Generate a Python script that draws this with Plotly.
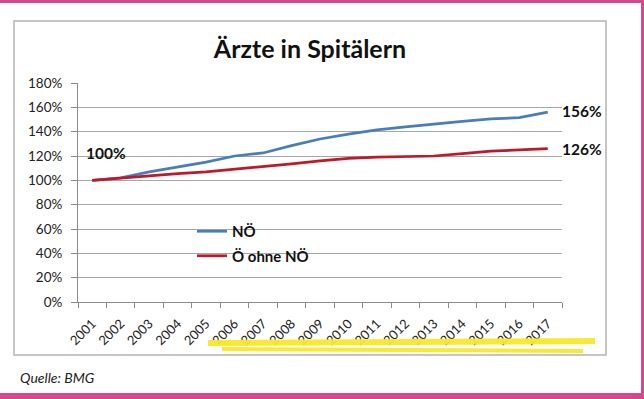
import plotly.graph_objects as go

years = [str(y) for y in range(2001, 2018)]
noe = [100, 102, 107, 111, 115, 120, 122.5, 128.5, 134, 138, 141.5, 144, 146.5, 148.5, 150.5, 151.5, 156]
oe_ohne_noe = [100, 102, 104, 105.5, 107, 109, 111, 113.5, 116, 118, 119, 119.5, 120, 122, 124, 125, 126]
series_names = ["NÖ", "Ö ohne NÖ"]
colors = ["#4a7ebb", "#c0182a"]
y_ticks = [0, 20, 40, 60, 80, 100, 120, 140, 160, 180]
PCT = "&#37;"

W, H = 644, 399
L, R, T, B = 78, 644 - 562, 83, 399 - 302

fig = go.Figure()
for name, vals, col in zip(series_names, [noe, oe_ohne_noe], colors):
    fig.add_trace(go.Scatter(x=years, y=vals, mode="lines", name=name,
                             line=dict(color=col, width=2.7), legendgroup=name))

font_fam = "Lato, 'Open Sans', sans-serif"

fig.update_layout(
    width=W, height=H,
    margin=dict(l=L, r=R, t=T, b=B),
    paper_bgcolor="white", plot_bgcolor="white",
    title=dict(text="<b>Ärzte in Spitälern</b>", x=310 / W, xanchor="center",
               y=1 - 49 / H, yanchor="middle", yref="container",
               font=dict(family=font_fam, size=25, color="#111")),
    xaxis=dict(type="category", range=[-0.5, 16.5], showgrid=False,
               showline=True, linecolor="#8c8c8c", linewidth=1,
               ticks="outside", tickson="boundaries", ticklen=5, tickcolor="#8c8c8c",
               tickangle=-45, ticklabelstandoff=8,
               tickfont=dict(family=font_fam, size=13, color="#222")),
    yaxis=dict(range=[0, 180], tickvals=y_ticks, ticktext=[f"{v}{PCT}" for v in y_ticks],
               showgrid=True, gridcolor="#a6a6a6", gridwidth=1,
               showline=True, linecolor="#8c8c8c", linewidth=1, zeroline=False,
               ticks="outside", ticklen=6, tickcolor="#8c8c8c", ticklabelstandoff=6,
               tickfont=dict(family=font_fam, size=13.5, color="#222")),
    showlegend=True,
    legend=dict(x=(192 - L) / (W - L - R), y=(302 - 215) / (302 - 83),
                xanchor="left", yanchor="top", bgcolor="rgba(0,0,0,0)",
                font=dict(family=font_fam, size=15, color="#111", weight="bold"),
                tracegroupgap=2, traceorder="grouped", itemwidth=30),
)

# value labels
fig.add_annotation(x=0, y=noe[0], text=f"<b>{noe[0]:.0f}{PCT}</b>", showarrow=False,
                   xanchor="left", yanchor="middle", xshift=-8, yshift=27,
                   font=dict(family=font_fam, size=15.5, color="#111"))
fig.add_annotation(x=len(years) - 1, y=noe[-1], text=f"<b>{noe[-1]:.0f}{PCT}</b>", showarrow=False,
                   xanchor="left", yanchor="middle", xshift=12, yshift=1,
                   font=dict(family=font_fam, size=15.5, color="#111"))
fig.add_annotation(x=len(years) - 1, y=oe_ohne_noe[-1], text=f"<b>{oe_ohne_noe[-1]:.0f}{PCT}</b>", showarrow=False,
                   xanchor="left", yanchor="middle", xshift=12, yshift=0,
                   font=dict(family=font_fam, size=15.5, color="#111"))

# source
fig.add_annotation(xref="paper", yref="paper", x=(18 - L) / (W - L - R), y=-(377 - 302) / (302 - 83),
                   text="<i>Quelle: BMG</i>", showarrow=False, xanchor="left", yanchor="middle",
                   font=dict(family=font_fam, size=14, color="#222"))

def px_x(p):
    return (p - L) / (W - L - R)

def px_y(p):
    return (302 - p) / (302 - 83)

# chart frame
fig.add_shape(type="rect", xref="paper", yref="paper", x0=px_x(14), x1=px_x(606),
              y0=px_y(355), y1=px_y(21), line=dict(color="#b4b4b4", width=1.5), layer="below")
# pink border
for (x0, y0, x1, y1) in [(0, 0, 644, 3), (641, 0, 644, 399), (0, 393, 644, 399)]:
    fig.add_shape(type="rect", xref="paper", yref="paper", x0=px_x(x0), x1=px_x(x1),
                  y0=px_y(y1), y1=px_y(y0), line=dict(width=0), fillcolor="#d5488e", layer="above")
# yellow highlighter strokes
fig.add_shape(type="line", xref="paper", yref="paper", x0=px_x(208), x1=px_x(595),
              y0=px_y(343), y1=px_y(341), line=dict(color="rgba(250,232,40,0.95)", width=6), layer="above")
fig.add_shape(type="line", xref="paper", yref="paper", x0=px_x(222), x1=px_x(583),
              y0=px_y(349), y1=px_y(351), line=dict(color="rgba(250,232,40,0.95)", width=4), layer="above")

fig.write_html("out.html", config={"displayModeBar": False},
               post_script="document.body.style.margin='0';")
